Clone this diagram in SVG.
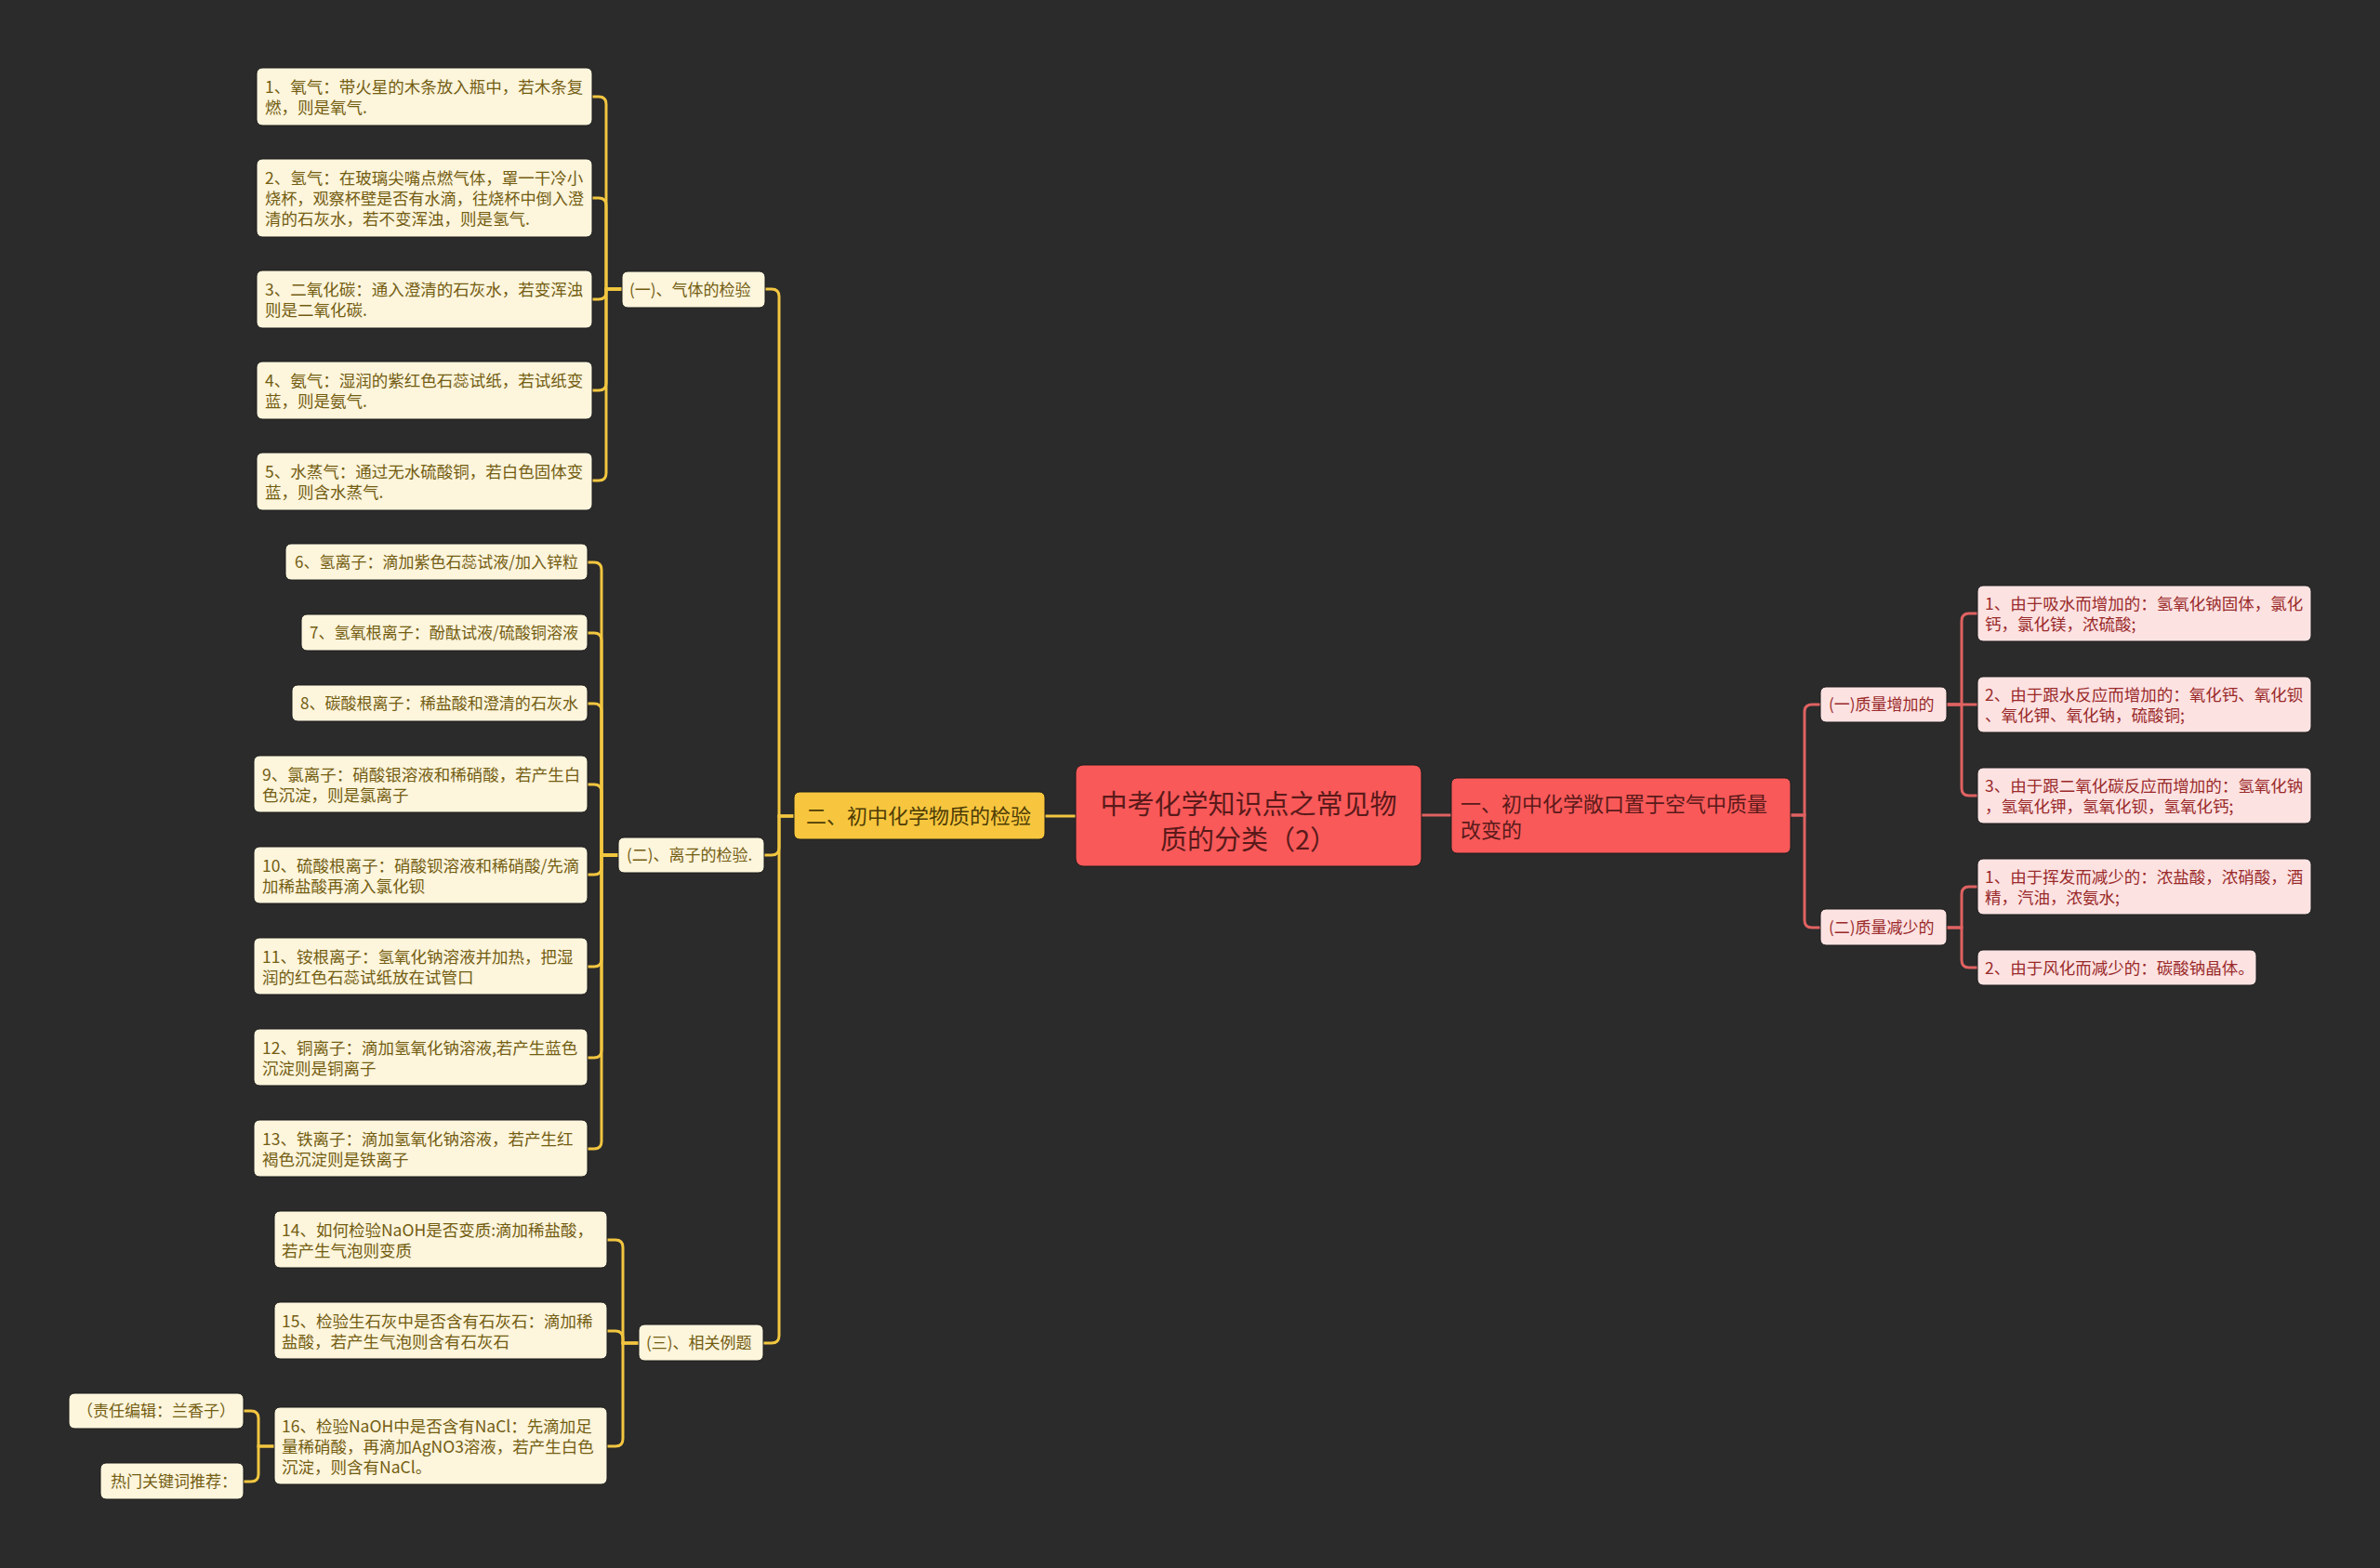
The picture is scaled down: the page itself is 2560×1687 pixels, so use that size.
<svg xmlns="http://www.w3.org/2000/svg" width="2560" height="1687" viewBox="0 0 2560 1687">
<style>
text{font-family:"Noto Sans CJK SC","Microsoft YaHei",sans-serif;}
.bg{fill:#2b2b2b;}
.cn{fill:#fdf5dc;stroke:#1c1c1c;stroke-width:1;}
.ct{fill:#735d12;font-size:17.5px;}
.ct2{fill:#735d12;font-size:17px;}
.pn{fill:#fde2e2;stroke:#1c1c1c;stroke-width:1;}
.pt{fill:#992a2a;font-size:17.5px;}
.pt2{fill:#992a2a;font-size:17px;}
.yc{fill:none;stroke:#f2c640;stroke-width:3;}
.rc{fill:none;stroke:#e06262;stroke-width:3;}
</style>
<rect class="bg" x="0" y="0" width="2560" height="1687"/>
<g id="connectors">
<path class="yc" d="M1157,878 H1124"/>
<path class="rc" d="M1529,877 H1561"/>
<path class="yc" d="M854,878 H838 V319 Q838,311 830,311 H823"/>
<path class="yc" d="M854,878 H838 V912 Q838,920 830,920 H822"/>
<path class="yc" d="M854,878 H838 V1437 Q838,1445 830,1445 H821"/>
<path class="yc" d="M669,311 H652 V112 Q652,104 644,104 H637"/>
<path class="yc" d="M669,311 H652 V221 Q652,213 644,213 H637"/>
<path class="yc" d="M669,311 H652 V314 Q652,322 644,322 H637"/>
<path class="yc" d="M669,311 H652 V412 Q652,420 644,420 H637"/>
<path class="yc" d="M669,311 H652 V509 Q652,517 644,517 H637"/>
<path class="yc" d="M665,920 H647 V613 Q647,605 639,605 H632"/>
<path class="yc" d="M665,920 H647 V689 Q647,681 639,681 H632"/>
<path class="yc" d="M665,920 H647 V765 Q647,757 639,757 H632"/>
<path class="yc" d="M665,920 H647 V852 Q647,844 639,844 H632"/>
<path class="yc" d="M665,920 H647 V933 Q647,941 639,941 H632"/>
<path class="yc" d="M665,920 H647 V1032 Q647,1040 639,1040 H632"/>
<path class="yc" d="M665,920 H647 V1130 Q647,1138 639,1138 H632"/>
<path class="yc" d="M665,920 H647 V1228 Q647,1236 639,1236 H632"/>
<path class="yc" d="M687,1445 H670 V1342 Q670,1334 662,1334 H653"/>
<path class="yc" d="M687,1445 H670 V1440 Q670,1432 662,1432 H653"/>
<path class="yc" d="M687,1445 H670 V1548 Q670,1556 662,1556 H653"/>
<path class="yc" d="M295,1556 H278 V1526 Q278,1518 270,1518 H262"/>
<path class="yc" d="M295,1556 H278 V1586 Q278,1594 270,1594 H262"/>
<path class="rc" d="M1926,877 H1941 V766 Q1941,758 1949,758 H1958"/>
<path class="rc" d="M1926,877 H1941 V990 Q1941,998 1949,998 H1958"/>
<path class="rc" d="M2094,758 H2110 V668 Q2110,660 2118,660 H2127"/>
<path class="rc" d="M2094,758 H2127"/>
<path class="rc" d="M2094,758 H2110 V848 Q2110,856 2118,856 H2127"/>
<path class="rc" d="M2094,998 H2110 V962 Q2110,954 2118,954 H2127"/>
<path class="rc" d="M2094,998 H2110 V1033 Q2110,1041 2118,1041 H2127"/>
</g>
<g id="root">
<rect x="1157" y="823" width="372" height="109" rx="8" fill="#f95959" stroke="#1c1c1c"/>
<text x="1343" y="876" text-anchor="middle" font-size="29" fill="#5a1a1a">中考化学知识点之常见物</text>
<text x="1343" y="914" text-anchor="middle" font-size="29" fill="#5a1a1a">质的分类（2）</text>
</g>
<g id="b2">
<rect x="854" y="852" width="270" height="51" rx="6" fill="#f7c63e" stroke="#1c1c1c"/>
<text x="867" y="886" font-size="22" fill="#4e3c06">二、初中化学物质的检验</text>
</g>
<g id="b1">
<rect x="1561" y="837" width="365" height="81" rx="6" fill="#f95959" stroke="#1c1c1c"/>
<text x="1571" y="873" font-size="22" fill="#5a1a1a">一、初中化学敞口置于空气中质量</text>
<text x="1571" y="901" font-size="22" fill="#5a1a1a">改变的</text>
</g>
<g id="s-gas">
<rect class="cn" x="669" y="292" width="154" height="39" rx="6"/>
<text class="ct2" x="677" y="317.5">(一)、气体的检验</text>
</g>
<g id="s-ion">
<rect class="cn" x="665" y="901" width="157" height="38" rx="6"/>
<text class="ct2" x="674" y="926">(二)、离子的检验.</text>
</g>
<g id="s-ex">
<rect class="cn" x="687" y="1425" width="134" height="39" rx="6"/>
<text class="ct2" x="695" y="1450.5">(三)、相关例题</text>
</g>
<g id="n1">
<rect class="cn" x="276" y="73" width="361" height="62" rx="6"/>
<text class="ct" x="285" y="99.5">1、氧气：带火星的木条放入瓶中，若木条复</text>
<text class="ct" x="285" y="121.5">燃，则是氧气.</text>
</g>
<g id="n2">
<rect class="cn" x="276" y="171" width="361" height="84" rx="6"/>
<text class="ct" x="285" y="197.5">2、氢气：在玻璃尖嘴点燃气体，罩一干冷小</text>
<text class="ct" x="285" y="219.5" textLength="343" lengthAdjust="spacingAndGlyphs">烧杯，观察杯壁是否有水滴，往烧杯中倒入澄</text>
<text class="ct" x="285" y="241.5">清的石灰水，若不变浑浊，则是氢气.</text>
</g>
<g id="n3">
<rect class="cn" x="276" y="291" width="361" height="62" rx="6"/>
<text class="ct" x="285" y="317.5">3、二氧化碳：通入澄清的石灰水，若变浑浊</text>
<text class="ct" x="285" y="339.5">则是二氧化碳.</text>
</g>
<g id="n4">
<rect class="cn" x="276" y="389" width="361" height="62" rx="6"/>
<text class="ct" x="285" y="415.5">4、氨气：湿润的紫红色石蕊试纸，若试纸变</text>
<text class="ct" x="285" y="437.5">蓝，则是氨气.</text>
</g>
<g id="n5">
<rect class="cn" x="276" y="487" width="361" height="62" rx="6"/>
<text class="ct" x="285" y="513.5">5、水蒸气：通过无水硫酸铜，若白色固体变</text>
<text class="ct" x="285" y="535.5">蓝，则含水蒸气.</text>
</g>
<g id="n6">
<rect class="cn" x="307" y="585" width="325" height="39" rx="6"/>
<text class="ct" x="317" y="611" textLength="305" lengthAdjust="spacingAndGlyphs">6、氢离子：滴加紫色石蕊试液/加入锌粒</text>
</g>
<g id="n7">
<rect class="cn" x="324" y="661" width="308" height="39" rx="6"/>
<text class="ct" x="333" y="687" textLength="289" lengthAdjust="spacingAndGlyphs">7、氢氧根离子：酚酞试液/硫酸铜溶液</text>
</g>
<g id="n8">
<rect class="cn" x="314" y="737" width="318" height="39" rx="6"/>
<text class="ct" x="323" y="763" textLength="299" lengthAdjust="spacingAndGlyphs">8、碳酸根离子：稀盐酸和澄清的石灰水</text>
</g>
<g id="n9">
<rect class="cn" x="273" y="813" width="359" height="61" rx="6"/>
<text class="ct" x="282" y="839.5">9、氯离子：硝酸银溶液和稀硝酸，若产生白</text>
<text class="ct" x="282" y="861.5">色沉淀，则是氯离子</text>
</g>
<g id="n10">
<rect class="cn" x="273" y="911" width="359" height="61" rx="6"/>
<text class="ct" x="282" y="937.5">10、硫酸根离子：硝酸钡溶液和稀硝酸/先滴</text>
<text class="ct" x="282" y="959.5">加稀盐酸再滴入氯化钡</text>
</g>
<g id="n11">
<rect class="cn" x="273" y="1009" width="359" height="61" rx="6"/>
<text class="ct" x="282" y="1035.5">11、铵根离子：氢氧化钠溶液并加热，把湿</text>
<text class="ct" x="282" y="1057.5">润的红色石蕊试纸放在试管口</text>
</g>
<g id="n12">
<rect class="cn" x="273" y="1107" width="359" height="61" rx="6"/>
<text class="ct" x="282" y="1133.5">12、铜离子：滴加氢氧化钠溶液,若产生蓝色</text>
<text class="ct" x="282" y="1155.5">沉淀则是铜离子</text>
</g>
<g id="n13">
<rect class="cn" x="273" y="1205" width="359" height="61" rx="6"/>
<text class="ct" x="282" y="1231.5">13、铁离子：滴加氢氧化钠溶液，若产生红</text>
<text class="ct" x="282" y="1253.5">褐色沉淀则是铁离子</text>
</g>
<g id="n14">
<rect class="cn" x="295" y="1303" width="358" height="61" rx="6"/>
<text class="ct" x="303" y="1329.5">14、如何检验NaOH是否变质:滴加稀盐酸，</text>
<text class="ct" x="303" y="1351.5">若产生气泡则变质</text>
</g>
<g id="n15">
<rect class="cn" x="295" y="1401" width="358" height="61" rx="6"/>
<text class="ct" x="303" y="1427.5">15、检验生石灰中是否含有石灰石：滴加稀</text>
<text class="ct" x="303" y="1449.5">盐酸，若产生气泡则含有石灰石</text>
</g>
<g id="n16">
<rect class="cn" x="295" y="1514" width="358" height="83" rx="6"/>
<text class="ct" x="303" y="1540.5">16、检验NaOH中是否含有NaCl：先滴加足</text>
<text class="ct" x="303" y="1562.5">量稀硝酸，再滴加AgNO3溶液，若产生白色</text>
<text class="ct" x="303" y="1584.5">沉淀，则含有NaCl。</text>
</g>
<g id="n-editor">
<rect class="cn" x="74" y="1499" width="188" height="38" rx="6"/>
<text class="ct2" x="168" y="1524" text-anchor="middle" font-size="16">（责任编辑：兰香子）</text>
</g>
<g id="n-hot">
<rect class="cn" x="108" y="1574" width="154" height="39" rx="6"/>
<text class="ct2" x="187" y="1599.5" text-anchor="middle">热门关键词推荐：</text>
</g>
<g id="s-inc">
<rect class="pn" x="1958" y="739" width="136" height="38" rx="6"/>
<text class="pt2" x="1967" y="764">(一)质量增加的</text>
</g>
<g id="s-dec">
<rect class="pn" x="1958" y="978" width="136" height="39" rx="6"/>
<text class="pt2" x="1967" y="1003.5">(二)质量减少的</text>
</g>
<g id="r1">
<rect class="pn" x="2127" y="630" width="359" height="60" rx="6"/>
<text class="pt" x="2135" y="655.5">1、由于吸水而增加的：氢氧化钠固体，氯化</text>
<text class="pt" x="2135" y="677.5">钙，氯化镁，浓硫酸;</text>
</g>
<g id="r2">
<rect class="pn" x="2127" y="728" width="359" height="60" rx="6"/>
<text class="pt" x="2135" y="753.5">2、由于跟水反应而增加的：氧化钙、氧化钡</text>
<text class="pt" x="2135" y="775.5">、氧化钾、氧化钠，硫酸铜;</text>
</g>
<g id="r3">
<rect class="pn" x="2127" y="826" width="359" height="60" rx="6"/>
<text class="pt" x="2135" y="851.5">3、由于跟二氧化碳反应而增加的：氢氧化钠</text>
<text class="pt" x="2135" y="873.5">，氢氧化钾，氢氧化钡，氢氧化钙;</text>
</g>
<g id="r4">
<rect class="pn" x="2127" y="924" width="359" height="60" rx="6"/>
<text class="pt" x="2135" y="949.5">1、由于挥发而减少的：浓盐酸，浓硝酸，酒</text>
<text class="pt" x="2135" y="971.5">精，汽油，浓氨水;</text>
</g>
<g id="r5">
<rect class="pn" x="2127" y="1022" width="300" height="38" rx="6"/>
<text class="pt" x="2135" y="1047.5">2、由于风化而减少的：碳酸钠晶体。</text>
</g>
</svg>
